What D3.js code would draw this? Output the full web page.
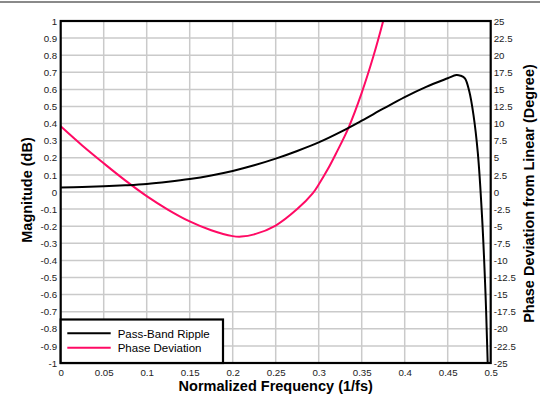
<!DOCTYPE html>
<html><head><meta charset="utf-8">
<script src="https://cdn.jsdelivr.net/npm/d3@7/dist/d3.min.js"></script>
<style>html,body{margin:0;padding:0;background:#fff;}svg{display:block;font-family:"Liberation Sans",Arial,sans-serif;}</style>
</head><body><svg id="c" width="540" height="395"></svg>
<script>
// Data
const xTicks = [0,0.05,0.1,0.15,0.2,0.25,0.3,0.35,0.4,0.45,0.5];
const xTickLabels = ["0","0.05","0.1","0.15","0.2","0.25","0.3","0.35","0.4","0.45","0.5"];
const leftTicks = [1,0.9,0.8,0.7,0.6,0.5,0.4,0.3,0.2,0.1,0,-0.1,-0.2,-0.3,-0.4,-0.5,-0.6,-0.7,-0.8,-0.9,-1];
const leftTickLabels = ["1","0.9","0.8","0.7","0.6","0.5","0.4","0.3","0.2","0.1","0","-0.1","-0.2","-0.3","-0.4","-0.5","-0.6","-0.7","-0.8","-0.9","-1"];
const rightTicks = [25,22.5,20,17.5,15,12.5,10,7.5,5,2.5,0,-2.5,-5,-7.5,-10,-12.5,-15,-17.5,-20,-22.5,-25];
const rightTickLabels = ["25","22.5","20","17.5","15","12.5","10","7.5","5","2.5","0","-2.5","-5","-7.5","-10","-12.5","-15","-17.5","-20","-22.5","-25"];

// Pass-band ripple (dB, left axis)
const rippleFreq = [0,0.025,0.05,0.075,0.1,0.125,0.15,0.175,0.2,0.225,0.25,0.275,0.3,0.325,0.35,0.375,0.4,0.425,0.45,0.46,0.465,0.47,0.475,0.48,0.485,0.49,0.494,0.4965,0.498];
const rippleDb   = [0.027,0.029,0.033,0.039,0.047,0.06,0.076,0.097,0.123,0.156,0.195,0.24,0.29,0.35,0.417,0.487,0.555,0.615,0.665,0.684,0.68,0.665,0.59,0.45,0.23,-0.15,-0.6,-1.0,-1.25];

// Phase deviation (degrees, right axis)
const phaseFreq = [0,0.025,0.05,0.075,0.1,0.125,0.15,0.175,0.2,0.21,0.225,0.25,0.275,0.293,0.3,0.31,0.32,0.335,0.35,0.3635,0.375,0.385];
const phaseDeg  = [9.6,6.8,4.2,1.7,-0.6,-2.6,-4.3,-5.6,-6.45,-6.52,-6.2,-4.9,-2.5,-0.2,1.1,3.2,5.6,9.5,14.5,19.8,25,30];

const seriesNames = ["Pass-Band Ripple","Phase Deviation"];
const seriesColors = ["#000000","#ff0a64"];

const svg = d3.select("#c");
const L = 60.7, R = 490.7, T = 21, B = 363;
const x = d3.scaleLinear().domain([0,0.5]).range([L,R]);
const yL = d3.scaleLinear().domain([-1,1]).range([B,T]);
const yR = d3.scaleLinear().domain([-25,25]).range([B,T]);

// top gray rule
svg.append("rect").attr("x",0).attr("y",1).attr("width",540).attr("height",2).attr("fill","#8a8a8a");

// grid
const g = svg.append("g");
g.selectAll("line.v").data(xTicks.slice(1,-1)).join("line")
  .attr("x1",d=>x(d)).attr("x2",d=>x(d)).attr("y1",T).attr("y2",B)
  .attr("stroke","#cacaca").attr("stroke-width",1.5);
g.selectAll("line.h").data(leftTicks.slice(1,-1)).join("line")
  .attr("x1",L).attr("x2",R).attr("y1",d=>yL(d)).attr("y2",d=>yL(d))
  .attr("stroke","#cacaca").attr("stroke-width",1.5);

// axes (labels only)
const axL = d3.axisLeft(yL).tickValues(leftTicks).tickSize(0).tickPadding(3.5)
  .tickFormat((d,i)=>leftTickLabels[i]);
const axR = d3.axisRight(yR).tickValues(rightTicks).tickSize(0).tickPadding(3)
  .tickFormat((d,i)=>rightTickLabels[i]);
const axB = d3.axisBottom(x).tickValues(xTicks).tickSize(0).tickPadding(6)
  .tickFormat((d,i)=>xTickLabels[i]);
function styleAxis(sel){
  sel.select(".domain").remove();
  sel.selectAll("text").attr("font-size","9.7px").attr("fill","#222").attr("font-family","Liberation Sans, Arial, sans-serif");
}
svg.append("g").attr("transform",`translate(${L},0)`).call(axL).call(styleAxis);
svg.append("g").attr("transform",`translate(${R},0)`).call(axR).call(styleAxis);
svg.append("g").attr("transform",`translate(0,${B})`).call(axB).call(styleAxis);

// clip
svg.append("defs").append("clipPath").attr("id","clip").append("rect")
  .attr("x",L).attr("y",T).attr("width",R-L).attr("height",B-T);

const lineL = d3.line().x(d=>x(d[0])).y(d=>yL(d[1])).curve(d3.curveCatmullRom.alpha(0.5));
const lineR = d3.line().x(d=>x(d[0])).y(d=>yR(d[1])).curve(d3.curveCatmullRom.alpha(0.5));
const plot = svg.append("g").attr("clip-path","url(#clip)");
plot.append("path").datum(phaseFreq.map((f,i)=>[f,phaseDeg[i]]))
  .attr("d",lineR).attr("fill","none").attr("stroke",seriesColors[1]).attr("stroke-width",2);
plot.append("path").datum(rippleFreq.map((f,i)=>[f,rippleDb[i]]))
  .attr("d",lineL).attr("fill","none").attr("stroke",seriesColors[0]).attr("stroke-width",2);

// border
svg.append("rect").attr("x",L).attr("y",T).attr("width",R-L).attr("height",B-T)
  .attr("fill","none").attr("stroke","#000").attr("stroke-width",2.2);

// legend
const lg = svg.append("g");
lg.append("rect").attr("x",L).attr("y",319.5).attr("width",223-L).attr("height",B-319.5)
  .attr("fill","#fff").attr("stroke","#000").attr("stroke-width",2.2);
seriesNames.forEach((n,i)=>{
  const yy = 333.3 + i*14.4;
  lg.append("line").attr("x1",67.3).attr("x2",110.7).attr("y1",yy).attr("y2",yy)
    .attr("stroke",seriesColors[i]).attr("stroke-width",2);
  lg.append("text").attr("x",117.7).attr("y",yy+4.2).attr("font-size","11.5px").attr("fill","#000").text(n);
});

// titles
svg.append("text").attr("x",(L+R)/2).attr("y",391).attr("text-anchor","middle")
  .attr("font-size","14.5px").attr("font-weight","bold").text("Normalized Frequency (1/fs)");
svg.append("text").attr("transform","translate(31.7,190) rotate(-90)").attr("text-anchor","middle")
  .attr("font-size","14.5px").attr("font-weight","bold").text("Magnitude (dB)");
svg.append("text").attr("transform","translate(534,193.5) rotate(-90)").attr("text-anchor","middle")
  .attr("font-size","14.5px").attr("font-weight","bold").text("Phase Deviation from Linear (Degree)");
</script></body></html>
